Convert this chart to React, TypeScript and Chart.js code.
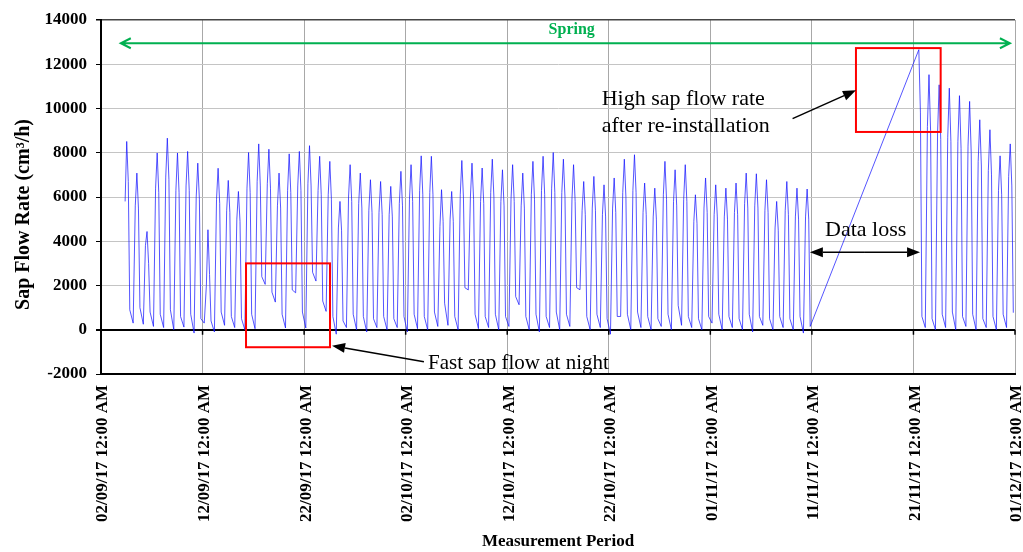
import { useEffect, useRef } from 'react';
import { Chart, registerables } from 'chart.js';

Chart.register(...registerables);

// Axis tick labels, one every ten days from 02/09/17
const tickLabels = [
  '02/09/17 12:00 AM',
  '12/09/17 12:00 AM',
  '22/09/17 12:00 AM',
  '02/10/17 12:00 AM',
  '12/10/17 12:00 AM',
  '22/10/17 12:00 AM',
  '01/11/17 12:00 AM',
  '11/11/17 12:00 AM',
  '21/11/17 12:00 AM',
  '01/12/17 12:00 AM',
];
const tickStepDays = 10;
const periodDays = 90;

// First logged day (04/09/17) counted in days from 02/09/17
const firstLoggedDay = 2;
// Hour of day of each daily reading
const sampleHours = [4, 9, 12.75, 16.5, 20];

// Daily readings in cm³/h; null = sensor offline (11/11 – 20/11)
const nightFlow = [
  null, 300, 250, 150, 100, 0, 120, -150, 300, -100,
  200, 100, 0, 50, 2050, 1250, 80, 1670, 80, 2200,
  830, -200, 100, 0, -100, 100, 0, 100, -100, 50,
  0, 150, 200, 0, 1800, 50, 100, 0, 150, 1130,
  0, -100, 100, 0, 150, 1810, 0, 100, -200, 600,
  0, 100, 0, 150, 0, 200, 100, 0, 300, 0,
  100, 0, -100, 200, 0, 100, 0, -150,
  null, null, null, null, null, null, null, null, null, null,
  null, 100, 0, 100, 0, 150, 0, 100, 0, 100,
];
const morningFlow = [
  5800, 5600, 3800, 6400, 6900, 6300, 6500, 6000, 2000, 5900,
  5400, 5000, 6400, 6700, 6600, 5600, 6300, 6500, 6600, 6300,
  6100, 4600, 6000, 5700, 5400, 5300, 5200, 5700, 5900, 6300,
  6200, 4670, 5000, 6100, 6000, 5800, 6200, 5800, 5900, 5600,
  6100, 6300, 6400, 6200, 5900, 5400, 5500, 5200, 5500, 6200,
  6300, 5300, 5100, 6100, 5800, 5900, 4900, 5500, 5200, 5100,
  5300, 5700, 5600, 5400, 4600, 5400, 5100, 5100,
  null, null, null, null, null, null, null, null, null, null,
  null, 9190, 8900, 8700, 8500, 8300, 7600, 7200, 6300, 6930,
];
const peakFlow = [
  8510, 7080, 4440, 7990, 8660, 7990, 8060, 7530, 4520, 7300,
  6750, 6250, 8010, 8400, 8160, 7080, 7950, 8060, 8320, 7840,
  7610, 5800, 7460, 7080, 6780, 6700, 6480, 7160, 7460, 7860,
  7840, 6330, 6250, 7650, 7530, 7310, 7710, 7230, 7460, 7080,
  7610, 7840, 8010, 7710, 7460, 6700, 6930, 6550, 6860, 7710,
  7910, 6630, 6400, 7610, 7230, 7460, 6100, 6860, 6550, 6400,
  6630, 7080, 7050, 6780, 5800, 6700, 6400, 6360,
  null, null, null, null, null, null, null, null, null, null,
  12660, 11530, 11070, 10920, 10580, 10320, 9490, 9040, 7860, 8400,
];
const afternoonFlow = [
  6700, 5500, 3000, 6200, 6800, 6200, 6300, 5900, 2500, 5700,
  5300, 4900, 6200, 6500, 6400, 5500, 6200, 6300, 6500, 6100,
  5900, 4500, 5800, 5500, 5300, 5200, 5100, 5600, 5800, 6100,
  6100, 4900, 4900, 6000, 5900, 5700, 6000, 5600, 5800, 5500,
  5900, 6100, 6200, 6000, 5800, 5200, 5400, 5100, 5300, 6000,
  6200, 5200, 5000, 5900, 5600, 5800, 4800, 5300, 5100, 5000,
  5200, 5500, 5500, 5300, 4500, 5200, 5000, 5000,
  null, null, null, null, null, null, null, null, null, null,
  9800, 9000, 8600, 8500, 8200, 8000, 7400, 7000, 6100, 6500,
];
const eveningFlow = [
  900, 1000, 800, 700, 900, 600, 700, 500, 400, 800,
  600, 500, 700, 2400, 1700, 700, 1800, 800, 2600, 1300,
  600, 400, 700, 600, 500, 600, 500, 600, 700, 600,
  800, 1200, 600, 1900, 700, 600, 700, 600, 1500, 600,
  700, 600, 800, 700, 1900, 600, 700, 500, 600, 700,
  800, 600, 500, 700, 1100, 600, 500, 600, 700, 600,
  500, 700, 600, 500, 600, 500, 600, 150,
  null, null, null, null, null, null, null, null, null, null,
  600, 500, 700, 800, 600, 700, 500, 600, 700, 770,
];

const dailySeries = [nightFlow, morningFlow, peakFlow, afternoonFlow, eveningFlow];

function buildPoints() {
  const points: { x: number; y: number }[] = [];
  for (let day = 0; day < peakFlow.length; day++) {
    dailySeries.forEach((series, i) => {
      const value = series[day];
      if (value !== null) {
        points.push({ x: firstLoggedDay + day + sampleHours[i] / 24, y: value });
      }
    });
  }
  return points;
}

const SERIF = '"Liberation Serif", "Times New Roman", serif';
const GREEN = '#00b050';

// Notes placed in axis units (days, cm³/h)
const season = { label: 'Spring', startDay: 1.95, endDay: 89.5, flow: 12950, labelDay: 46.35, labelFlow: 13560 };
const nightBox = { startDay: 14.28, endDay: 22.55, top: 3000, bottom: -790 };
const reinstallBox = { startDay: 74.34, endDay: 82.68, top: 12730, bottom: 8940 };
const nightNote = { text: 'Fast sap flow at night', day: 32.2, flow: -1760, tailDay: 31.8, tailFlow: -1450, tipDay: 22.75, tipFlow: -720 };
const reinstallNote = {
  lines: ['High sap flow rate', 'after re-installation'],
  day: 49.3,
  flows: [10170, 8935],
  tailDay: 68.1,
  tailFlow: 9540,
  tipDay: 74.34,
  tipFlow: 10820,
};
const lossNote = { text: 'Data loss', day: 71.3, flow: 4220, startDay: 69.8, endDay: 80.65, arrowFlow: 3500 };

function filledArrow(ctx: CanvasRenderingContext2D, x1: number, y1: number, x2: number, y2: number) {
  const angle = Math.atan2(y2 - y1, x2 - x1);
  const len = 13;
  const half = 5;
  const bx = x2 - len * Math.cos(angle);
  const by = y2 - len * Math.sin(angle);
  ctx.beginPath();
  ctx.moveTo(x1, y1);
  ctx.lineTo(bx, by);
  ctx.stroke();
  ctx.beginPath();
  ctx.moveTo(x2, y2);
  ctx.lineTo(bx + half * Math.sin(angle), by - half * Math.cos(angle));
  ctx.lineTo(bx - half * Math.sin(angle), by + half * Math.cos(angle));
  ctx.closePath();
  ctx.fill();
}

const notesPlugin = {
  id: 'sapFlowNotes',
  afterDatasetsDraw(chart: Chart) {
    const { ctx } = chart;
    const xs = chart.scales.x;
    const ys = chart.scales.y;
    const px = (d: number) => xs.getPixelForValue(d);
    const py = (v: number) => ys.getPixelForValue(v);
    ctx.save();

    // small tick marks hanging from the zero line
    ctx.strokeStyle = '#000';
    ctx.lineWidth = 1.5;
    for (let d = 0; d <= periodDays; d += tickStepDays) {
      ctx.beginPath();
      ctx.moveTo(px(d), py(0));
      ctx.lineTo(px(d), py(0) + 5);
      ctx.stroke();
    }

    // season span
    const sy = py(season.flow);
    const sx1 = px(season.startDay);
    const sx2 = px(season.endDay);
    ctx.strokeStyle = GREEN;
    ctx.lineWidth = 2;
    ctx.beginPath();
    ctx.moveTo(sx1, sy);
    ctx.lineTo(sx2, sy);
    ctx.moveTo(sx1 + 10, sy - 5);
    ctx.lineTo(sx1, sy);
    ctx.lineTo(sx1 + 10, sy + 5);
    ctx.moveTo(sx2 - 10, sy - 5);
    ctx.lineTo(sx2, sy);
    ctx.lineTo(sx2 - 10, sy + 5);
    ctx.stroke();
    ctx.fillStyle = GREEN;
    ctx.font = `bold 16px ${SERIF}`;
    ctx.textAlign = 'center';
    ctx.textBaseline = 'middle';
    ctx.fillText(season.label, px(season.labelDay), py(season.labelFlow));

    // highlighted regions
    ctx.strokeStyle = '#ff0000';
    ctx.lineWidth = 2;
    [nightBox, reinstallBox].forEach((b) => {
      const x1 = px(b.startDay);
      const y1 = py(b.top);
      ctx.strokeRect(x1, y1, px(b.endDay) - x1, py(b.bottom) - y1);
    });

    // callouts
    ctx.strokeStyle = '#000';
    ctx.fillStyle = '#000';
    ctx.lineWidth = 1.5;
    filledArrow(ctx, px(nightNote.tailDay), py(nightNote.tailFlow), px(nightNote.tipDay), py(nightNote.tipFlow));
    filledArrow(ctx, px(reinstallNote.tailDay), py(reinstallNote.tailFlow), px(reinstallNote.tipDay), py(reinstallNote.tipFlow));
    const ly = py(lossNote.arrowFlow);
    const lmid = (px(lossNote.startDay) + px(lossNote.endDay)) / 2;
    filledArrow(ctx, lmid, ly, px(lossNote.startDay), ly);
    filledArrow(ctx, lmid, ly, px(lossNote.endDay), ly);

    ctx.textAlign = 'left';
    ctx.textBaseline = 'alphabetic';
    ctx.font = `21px ${SERIF}`;
    ctx.fillText(nightNote.text, px(nightNote.day), py(nightNote.flow));
    ctx.font = `22px ${SERIF}`;
    reinstallNote.lines.forEach((line, i) => {
      ctx.fillText(line, px(reinstallNote.day), py(reinstallNote.flows[i]));
    });
    ctx.fillText(lossNote.text, px(lossNote.day), py(lossNote.flow));

    ctx.restore();
  },
};

export default function App() {
  const canvasRef = useRef<HTMLCanvasElement | null>(null);

  useEffect(() => {
    if (!canvasRef.current) return;
    const chart = new Chart(canvasRef.current, {
      type: 'line',
      data: {
        datasets: [
          {
            label: 'Sap Flow Rate',
            data: buildPoints(),
            borderColor: 'rgba(20, 20, 255, 0.72)',
            borderWidth: 1,
            pointRadius: 0,
            tension: 0,
            fill: false,
            spanGaps: true,
          },
        ],
      },
      options: {
        animation: false,
        responsive: true,
        maintainAspectRatio: false,
        layout: { padding: { left: 0, right: 8, top: 20, bottom: 0 } },
        plugins: { legend: { display: false }, tooltip: { enabled: false } },
        scales: {
          x: {
            type: 'linear',
            min: 0,
            max: periodDays,
            afterFit: (axis: any) => {
              axis.height = 178;
              axis.paddingLeft = 0;
              axis.paddingRight = 0;
            },
            ticks: {
              stepSize: tickStepDays,
              autoSkip: false,
              maxRotation: 90,
              minRotation: 90,
              padding: 11,
              labelOffset: 2,
              color: '#000',
              font: { family: SERIF, size: 17, weight: 'bold' },
              callback: (value: any) => tickLabels[Math.round(Number(value) / tickStepDays)] ?? '',
            },
            grid: { color: '#a8a8a8', lineWidth: 1, drawTicks: false },
            border: { color: '#000', width: 2 },
            title: {
              display: true,
              text: 'Measurement Period',
              color: '#000',
              font: { family: SERIF, size: 17, weight: 'bold', lineHeight: 1.2 },
              padding: { top: 0, bottom: 0 },
            },
          },
          y: {
            type: 'linear',
            min: -2000,
            max: 14000,
            afterFit: (axis: any) => {
              axis.width = 101;
              axis.paddingTop = 0;
              axis.paddingBottom = 0;
            },
            ticks: {
              stepSize: 2000,
              padding: 9,
              color: '#000',
              font: { family: SERIF, size: 17, weight: 'bold' },
              callback: (value: any) => String(value),
            },
            grid: {
              color: (c: any) => (c.tick?.value === 0 ? '#000' : c.tick?.value === 14000 ? '#444' : '#c4c4c4'),
              lineWidth: (c: any) => (c.tick?.value === 0 ? 2 : c.tick?.value === 14000 ? 1.5 : 1),
              tickColor: '#000',
              tickLength: 5,
            },
            border: { color: '#000', width: 2 },
            title: {
              display: true,
              text: 'Sap Flow Rate (cm³/h)\u00a0\u00a0\u00a0\u00a0\u00a0\u00a0\u00a0',
              color: '#000',
              font: { family: SERIF, size: 20, weight: 'bold', lineHeight: 1.2 },
              padding: { top: 12, bottom: 0 },
            },
          },
        },
      },
      plugins: [notesPlugin],
    });
    return () => chart.destroy();
  }, []);

  return (
    <div style={{ position: 'fixed', left: 0, top: 0, width: 1023, height: 552, background: '#fff' }}>
      <canvas ref={canvasRef} />
    </div>
  );
}
